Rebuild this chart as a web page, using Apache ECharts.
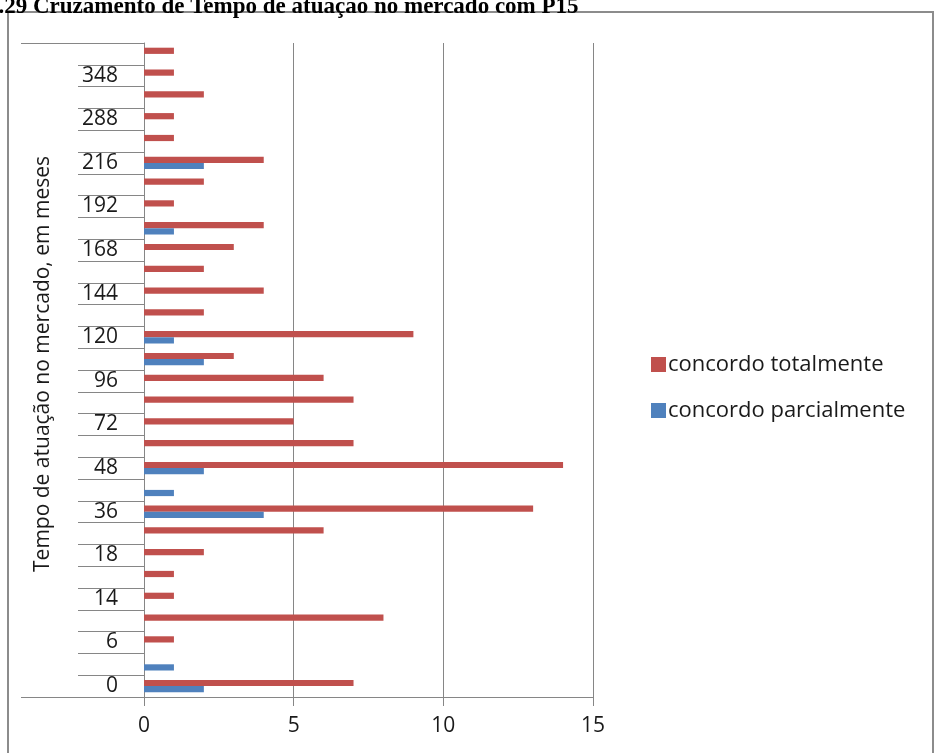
<!DOCTYPE html>
<html>
<head>
<meta charset="utf-8">
<script src="https://cdn.jsdelivr.net/npm/echarts@6/dist/echarts.min.js"></script>
<style>
  html, body { margin: 0; padding: 0; background: #fff; }
  #chart { width: 937px; height: 753px; }
</style>
</head>
<body>
<div id="chart"></div>
<script>
// Tempo de atuação no mercado (meses), de baixo para cima
const categories = ['0','3','6','12','14','16','18','24','36','42','48','60','72','84','96','108','120','132','144','156','168','180','192','204','216','240','288','300','348','360'];
const parcialmente = [2,1,0,0,0,0,0,0,4,1,2,0,0,0,0,2,1,0,0,0,0,1,0,0,2,0,0,0,0,0];
const totalmente   = [7,0,1,8,1,1,2,6,13,0,14,7,5,7,6,3,9,2,4,2,3,4,1,2,4,1,1,2,1,1];
const xTicks = [0, 5, 10, 15];

const RED = '#C0504D';
const BLUE = '#4F81BD';
const GRAY = '#868686';
const FONT = 'Open Sans';

const chart = echarts.init(document.getElementById('chart'));
chart.setOption({
  animation: false,
  backgroundColor: '#fff',
  title: {
    text: '4.29 Cruzamento de Tempo de atuação no mercado com P15',
    left: -18,
    top: -9,
    textStyle: { fontFamily: 'Liberation Serif', fontWeight: 'bold', fontSize: 23, color: '#000' }
  },
  graphic: [{
    type: 'rect',
    shape: { x: 8, y: 12, width: 925, height: 760 },
    style: { fill: null, stroke: '#8c8c8c', lineWidth: 2 },
    silent: true
  }],
  legend: {
    orient: 'vertical',
    left: 646,
    top: 347,
    itemWidth: 15,
    itemHeight: 15,
    itemGap: 21,
    icon: 'rect',
    data: ['concordo totalmente', 'concordo parcialmente'],
    textStyle: { fontFamily: FONT, fontSize: 22, color: '#1a1a1a', padding: [0, 0, 0, -3], lineHeight: 25 }
  },
  grid: { left: 144, top: 43, width: 449, bottom: 56, containLabel: false },
  xAxis: {
    type: 'value',
    min: 0, max: 15, interval: 5,
    axisLine: { show: true, lineStyle: { color: GRAY, width: 1 } },
    axisTick: { show: true, length: 9, lineStyle: { color: GRAY } },
    splitLine: { show: true, lineStyle: { color: GRAY, width: 1 } },
    axisLabel: {
      margin: 19,
      formatter: v => xTicks.includes(v) ? String(v) : '',
      fontFamily: FONT, fontSize: 21, color: '#1a1a1a'
    }
  },
  yAxis: [{
    type: 'category',
    data: categories,
    boundaryGap: true,
    name: 'Tempo de atuação no mercado, em meses',
    nameLocation: 'middle',
    nameRotate: 90,
    nameGap: 90,
    nameTextStyle: { fontFamily: FONT, fontSize: 21, color: '#1a1a1a', padding: [0, 0, 0, 12] },
    axisLine: { show: true, lineStyle: { color: GRAY, width: 1 } },
    axisTick: { show: true, interval: 0, length: 66, lineStyle: { color: GRAY } },
    axisLabel: { interval: 1, margin: 26, fontFamily: FONT, fontSize: 21, color: '#1a1a1a' },
    splitLine: { show: false }
  }, {
    // moldura externa do eixo de categorias (linhas de topo e base)
    type: 'category',
    data: [''],
    position: 'left',
    boundaryGap: true,
    axisLine: { show: false },
    axisTick: { show: true, length: 123, lineStyle: { color: GRAY } },
    axisLabel: { show: false },
    splitLine: { show: false }
  }],
  series: [{
    name: 'concordo totalmente',
    type: 'bar',
    data: totalmente,
    itemStyle: { color: RED },
    barGap: '0%',
    barCategoryGap: '43%'
  }, {
    name: 'concordo parcialmente',
    type: 'bar',
    data: parcialmente,
    itemStyle: { color: BLUE },
    barGap: '0%',
    barCategoryGap: '43%'
  }]
});
</script>
</body>
</html>
